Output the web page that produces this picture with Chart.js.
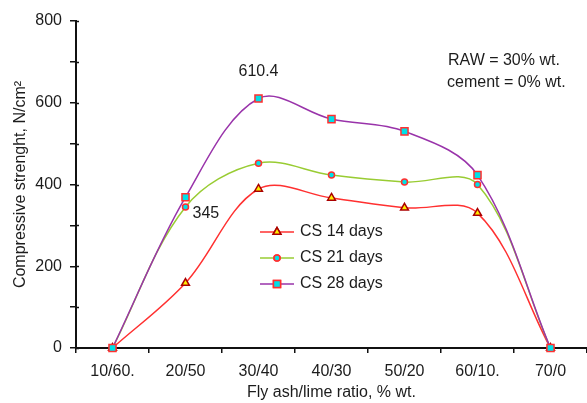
<!DOCTYPE html>
<html>
<head>
<meta charset="utf-8">
<script src="https://cdn.jsdelivr.net/npm/chart.js@4"></script>
<style>
html,body{margin:0;padding:0;background:#fff;}
#wrap{width:587px;height:403px;position:relative;}
</style>
</head>
<body>
<div id="wrap"><canvas id="c" width="587" height="403"></canvas></div>
<script>
const categories = ['10/60.', '20/50', '30/40', '40/30', '50/20', '60/10.', '70/0'];
const cs14 = [0, 159, 389, 367, 343, 330, 0];
const cs21 = [0, 345, 452, 423, 406, 400, 0];
const cs28 = [0, 369, 610.4, 560, 530, 423, 0];
const seriesNames = ['CS 14 days', 'CS 21 days', 'CS 28 days'];
const yTicks = [0, 200, 400, 600, 800];
const notes = ['RAW = 30% wt.', 'cement = 0% wt.'];
const pointLabels = [{series: 2, index: 2, text: '610.4'}, {series: 1, index: 1, text: '345'}];

const FONT = 'Liberation Sans, Arial, sans-serif';
const TXT = '#1c1c1c';

const styles = [
  {line: '#ff3030', style: 'triangle', fill: '#ffee00', border: '#aa0000', r: 4.5},
  {line: '#99cc33', style: 'circle', fill: '#00e0e8', border: '#ff3030', r: 3},
  {line: '#9933aa', style: 'rect', fill: '#00e0e8', border: '#ff3030', r: 5}
];

const seriesData = [cs14, cs21, cs28];

const extras = {
  id: 'extras',
  afterDraw(chart) {
    const ctx = chart.ctx;
    const xs = chart.scales.x, ys = chart.scales.y;
    ctx.save();
    ctx.strokeStyle = '#111';
    ctx.lineWidth = 1.5;
    for (let v = 0; v <= 800; v += 100) {
      const y = Math.round(ys.getPixelForValue(v)) + 0.5;
      ctx.beginPath(); ctx.moveTo(xs.left, y); ctx.lineTo(xs.left + 3, y); ctx.stroke();
    }
    ctx.fillStyle = TXT;
    ctx.font = '16px ' + FONT;
    ctx.textBaseline = 'middle';
    pointLabels.forEach(p => {
      const px = xs.getPixelForValue(p.index);
      const py = ys.getPixelForValue(seriesData[p.series][p.index]);
      if (p.series === 2) { ctx.textAlign = 'center'; ctx.fillText(p.text, px, py - 27); }
      else { ctx.textAlign = 'left'; ctx.fillText(p.text, px + 7, py + 7); }
    });
    ctx.textAlign = 'left';
    ctx.fillText(notes[0], 448, 61);
    ctx.fillText(notes[1], 447, 83);
    const rows = [232, 258, 284];
    seriesNames.forEach((n, i) => {
      const s = styles[i];
      const y = rows[i];
      ctx.strokeStyle = s.line; ctx.lineWidth = 1.5;
      ctx.beginPath(); ctx.moveTo(260, y); ctx.lineTo(294, y); ctx.stroke();
      ctx.fillStyle = s.fill; ctx.strokeStyle = s.border; ctx.lineWidth = 1.5;
      Chart.helpers.drawPoint(ctx, {pointStyle: s.style, radius: s.r, borderWidth: 1.5}, 277, y);
      ctx.fill(); ctx.stroke();
      ctx.fillStyle = TXT;
      ctx.fillText(n, 300, y);
    });
    ctx.restore();
  }
};

new Chart(document.getElementById('c'), {
  type: 'line',
  data: {
    labels: categories,
    datasets: seriesNames.map((n, i) => ({
      label: n,
      data: seriesData[i],
      borderColor: styles[i].line,
      borderWidth: 1.5,
      tension: 0.35,
      pointStyle: styles[i].style,
      pointRadius: styles[i].r,
      pointBackgroundColor: styles[i].fill,
      pointBorderColor: styles[i].border,
      pointBorderWidth: 1.5,
      order: 3 - i,
      fill: false,
      clip: false
    }))
  },
  options: {
    responsive: false,
    animation: false,
    events: [],
    layout: {autoPadding: false, padding: {top: 21, right: 0, left: 0, bottom: 0}},
    plugins: {legend: {display: false}, tooltip: {enabled: false}},
    scales: {
      x: {
        offset: true,
        grid: {display: true, drawOnChartArea: false, drawTicks: true, tickLength: 5, color: '#111', lineWidth: 1.5, offset: true},
        border: {display: true, color: '#111', width: 2},
        ticks: {color: TXT, font: {family: FONT, size: 16}, padding: 9, maxRotation: 0, autoSkip: false},
        title: {display: true, text: 'Fly ash/lime ratio, % wt.', color: TXT, font: {family: FONT, size: 16}, padding: {top: 0, bottom: 1}},
        afterFit(s) { s.height = 55; s.paddingLeft = 0; s.paddingRight = 0; }
      },
      y: {
        min: 0, max: 800,
        grid: {display: true, drawOnChartArea: false, drawTicks: true, tickLength: 6, color: '#111', lineWidth: 1.5},
        border: {display: true, color: '#111', width: 2},
        ticks: {
          stepSize: 100, color: TXT, font: {family: FONT, size: 16}, padding: 8,
          callback: v => yTicks.includes(v) ? String(v) : ''
        },
        title: {display: true, text: 'Compressive strenght, N/cm²', color: TXT, font: {family: FONT, size: 16}, padding: {top: 11, bottom: 0}},
        afterFit(s) { s.width = 76; s.paddingTop = 0; s.paddingBottom = 0; }
      }
    }
  },
  plugins: [extras]
});
</script>
</body>
</html>
